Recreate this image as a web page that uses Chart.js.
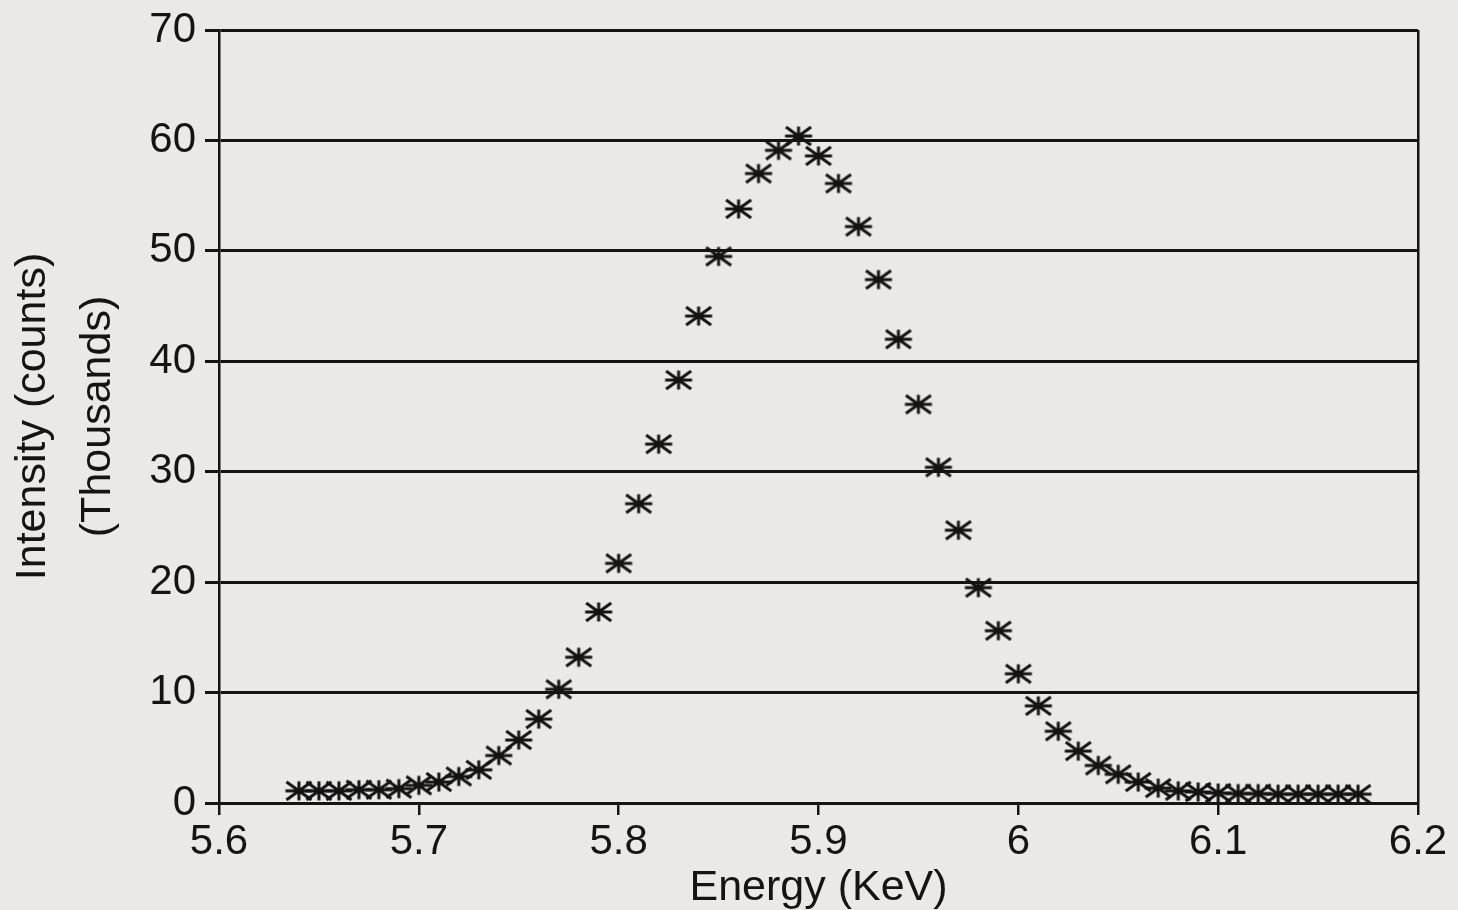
<!DOCTYPE html>
<html>
<head>
<meta charset="utf-8">
<script src="https://cdn.jsdelivr.net/npm/chart.js@4"></script>
<style>
  body { margin: 0; background: #ebe9e7; }
  #wrap { width: 1458px; height: 910px; }
</style>
</head>
<body>
<div id="wrap"><canvas id="chart" width="1458" height="910"></canvas></div>
<script>
// data (intensity in thousands of counts)
const energy = [5.64, 5.65, 5.66, 5.67, 5.68, 5.69, 5.70, 5.71, 5.72, 5.73,
  5.74, 5.75, 5.76, 5.77, 5.78, 5.79, 5.80, 5.81, 5.82, 5.83,
  5.84, 5.85, 5.86, 5.87, 5.88, 5.89, 5.90, 5.91, 5.92, 5.93,
  5.94, 5.95, 5.96, 5.97, 5.98, 5.99, 6.00, 6.01, 6.02, 6.03,
  6.04, 6.05, 6.06, 6.07, 6.08, 6.09, 6.10, 6.11, 6.12, 6.13,
  6.14, 6.15, 6.16, 6.17];
const intensity = [1.1, 1.1, 1.1, 1.2, 1.2, 1.3, 1.6, 1.9, 2.4, 3.0,
  4.3, 5.7, 7.6, 10.3, 13.2, 17.3, 21.7, 27.1, 32.5, 38.3,
  44.1, 49.5, 53.8, 57.0, 59.1, 60.4, 58.6, 56.1, 52.2, 47.4,
  42.0, 36.1, 30.4, 24.7, 19.5, 15.6, 11.7, 8.8, 6.5, 4.7,
  3.4, 2.6, 1.9, 1.35, 1.1, 1.0, 0.9, 0.85, 0.85, 0.8,
  0.8, 0.8, 0.8, 0.8];
const xTickLabels = ['5.6', '5.7', '5.8', '5.9', '6', '6.1', '6.2'];
const yTickLabels = ['0', '10', '20', '30', '40', '50', '60', '70'];

const ink = '#141414';
const font = '"Liberation Sans", Arial, Helvetica, sans-serif';

// asterisk marker like the plotter's: wide, flat diagonals
function asterisk() {
  const c = document.createElement('canvas');
  c.width = 30; c.height = 24;
  const g = c.getContext('2d');
  g.strokeStyle = ink;
  g.lineWidth = 3;
  g.translate(15, 12);
  g.beginPath();
  g.moveTo(-13.5, 0); g.lineTo(13.5, 0);
  g.moveTo(-12.5, -9); g.lineTo(12.5, 9);
  g.moveTo(-12.5, 9); g.lineTo(12.5, -9);
  g.moveTo(0, -9.5); g.lineTo(0, 9.5);
  g.stroke();
  g.fillStyle = ink;
  g.beginPath(); g.arc(0, 0, 3, 0, Math.PI * 2); g.fill();
  return c;
}

const points = energy.map((e, i) => ({ x: e, y: intensity[i] }));

new Chart(document.getElementById('chart'), {
  type: 'scatter',
  data: {
    datasets: [{
      data: points,
      showLine: false,
      pointStyle: asterisk(),
      pointRadius: 13,
      pointHoverRadius: 13
    }]
  },
  options: {
    responsive: false,
    devicePixelRatio: 1,
    animation: false,
    layout: { padding: { top: 26, right: 40, left: 0, bottom: 0 } },
    plugins: { legend: { display: false }, tooltip: { enabled: false } },
    scales: {
      x: {
        type: 'linear',
        min: 5.6,
        max: 6.2,
        afterFit: s => { s.height = 107; },
        afterBuildTicks: s => { s.ticks = xTickLabels.map(v => ({ value: parseFloat(v) })); },
        ticks: {
          color: ink,
          font: { family: font, size: 42 },
          padding: 2,
          maxRotation: 0,
          autoSkip: false,
          callback: (v, i) => xTickLabels[i]
        },
        grid: {
          color: ctx => ctx.index === xTickLabels.length - 1 ? ink : 'transparent',
          tickColor: ink,
          lineWidth: 2.5,
          tickLength: 12
        },
        border: { color: ink, width: 3 },
        title: {
          display: true,
          text: 'Energy (KeV)',
          color: ink,
          font: { family: font, size: 43, lineHeight: 1.0 },
          padding: { top: 0, bottom: 0 }
        }
      },
      y: {
        min: 0,
        max: 70,
        afterFit: s => { s.width = 219; },
        afterBuildTicks: s => { s.ticks = yTickLabels.map(v => ({ value: Number(v) })); },
        ticks: {
          color: ink,
          font: { family: font, size: 42, lineHeight: 1.0 },
          padding: 9,
          callback: (v, i) => yTickLabels[i]
        },
        grid: {
          color: ink,
          lineWidth: 3,
          tickLength: 14
        },
        border: { color: ink, width: 2.5 },
        title: {
          display: true,
          text: ['Intensity (counts)', '(Thousands)'],
          color: ink,
          font: { family: font, size: 43, lineHeight: 1.5 },
          padding: { top: 1, bottom: 0 }
        }
      }
    }
  }
});
</script>
</body>
</html>
